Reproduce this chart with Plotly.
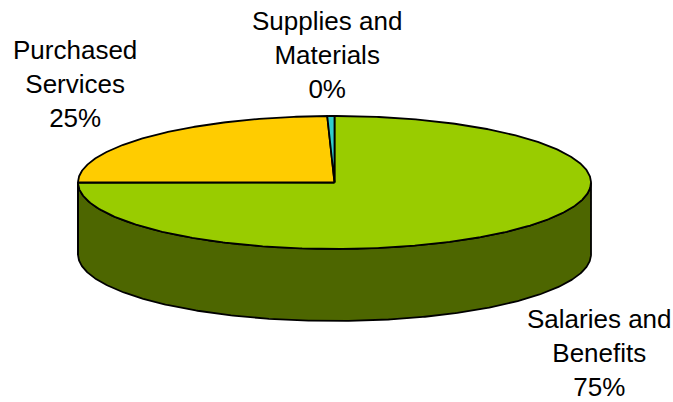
import numpy as np
import plotly.graph_objects as go

# ---- data ----
categories = ["Salaries and Benefits", "Purchased Services", "Supplies and Materials"]
label_text = ["Salaries and<br>Benefits", "Purchased<br>Services", "Supplies and<br>Materials"]
values = [74.9, 24.65, 0.45]
top_colors = ["#99CC00", "#FFCC00", "#33CCCC"]
side_colors = ["#4D6600", "#806600", "#1A6666"]

# ---- geometry of the 3D pie (pixel space) ----
W, H = 673, 402
cx, cy = 334.5, 182.5
rx, ry = 256.5, 66.5
depth = 72


def arc(t0, t1, dz=0.0, n=None):
    if n is None:
        n = max(4, int(abs(t1 - t0) * 2) + 2)
    t = np.radians(np.linspace(t0, t1, n))
    return cx + rx * np.sin(t), cy - ry * np.cos(t) + dz


total = float(sum(values))
fracs = [v / total for v in values]
bounds = []
s = 0.0
for f in fracs:
    bounds.append((s * 360.0, (s + f) * 360.0))
    s += f

fig = go.Figure()
line = dict(color="black", width=1.8)

# side walls (only the front half, 90..270 deg clockwise from 12 o'clock)
for (a, b), col in zip(bounds, side_colors):
    lo, hi = max(a, 90.0), min(b, 270.0)
    if lo < hi:
        xt, yt = arc(lo, hi)
        xb, yb = arc(lo, hi, depth)
        xs = np.concatenate([xt, xb[::-1], xt[:1]])
        ys = np.concatenate([yt, yb[::-1], yt[:1]])
        fig.add_trace(go.Scatter(x=xs, y=ys, mode="lines", fill="toself",
                                 fillcolor=col, line=line, hoverinfo="skip"))

# top faces
for (a, b), col, name in zip(bounds, top_colors, categories):
    xa, ya = arc(a, b)
    xs = np.concatenate([[cx], xa, [cx]])
    ys = np.concatenate([[cy], ya, [cy]])
    fig.add_trace(go.Scatter(x=xs, y=ys, mode="lines", fill="toself",
                             fillcolor=col, line=line, name=name,
                             hoverinfo="name"))

# labels
label_pos = [(599, 353), (75, 84), (327, 55)]
for txt, v, (lx, ly) in zip(label_text, values, label_pos):
    pct = int(round(v / total * 100))
    fig.add_annotation(x=lx, y=ly, xref="x", yref="y", showarrow=False,
                       text=f"{txt}<br>{pct}%", align="center",
                       xanchor="center", yanchor="middle",
                       font=dict(family="Liberation Sans, Arial", size=26,
                                 color="black"))

fig.update_layout(
    width=W, height=H, autosize=False,
    margin=dict(l=0, r=0, t=0, b=0),
    paper_bgcolor="white", plot_bgcolor="white",
    showlegend=False,
    xaxis=dict(range=[0, W], visible=False, fixedrange=True),
    yaxis=dict(range=[H, 0], visible=False, fixedrange=True),
)

fig.write_html("out.html")
